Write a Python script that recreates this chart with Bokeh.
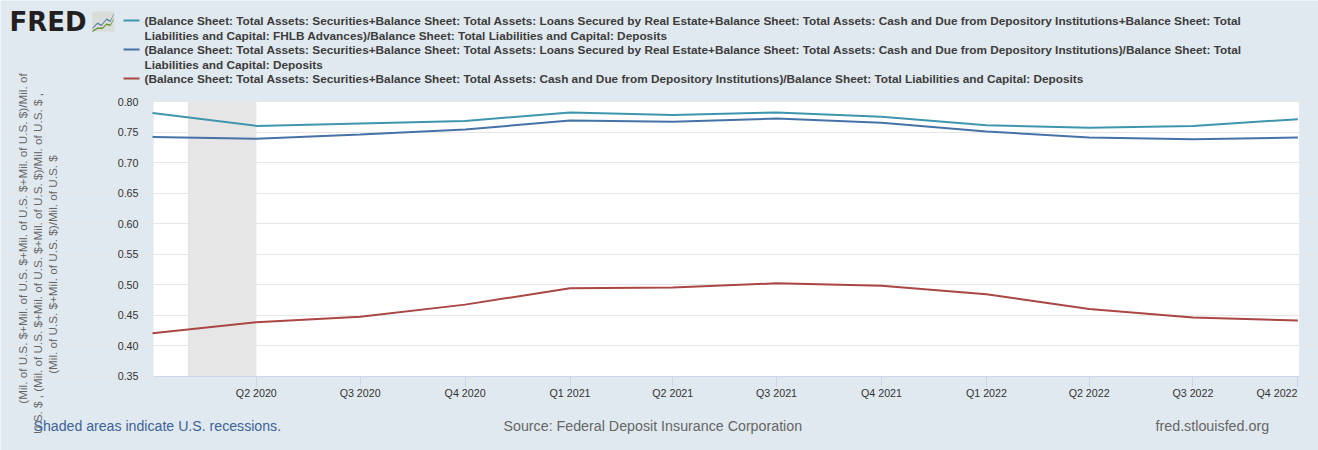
from datetime import datetime
from bokeh.embed import file_html
from bokeh.resources import INLINE
from bokeh.plotting import figure
from bokeh.models import Label, FixedTicker, PolyAnnotation, Range1d, PrintfTickFormatter

BG = "#e1e9f0"
FONT = "Liberation Sans"
WIDTH, HEIGHT = 1318, 450

quarters = ["Q1 2020", "Q2 2020", "Q3 2020", "Q4 2020", "Q1 2021", "Q2 2021",
            "Q3 2021", "Q4 2021", "Q1 2022", "Q2 2022", "Q3 2022", "Q4 2022"]
dates = [datetime(2020, 1, 1), datetime(2020, 4, 1), datetime(2020, 7, 1), datetime(2020, 10, 1),
         datetime(2021, 1, 1), datetime(2021, 4, 1), datetime(2021, 7, 1), datetime(2021, 10, 1),
         datetime(2022, 1, 1), datetime(2022, 4, 1), datetime(2022, 7, 1), datetime(2022, 10, 1)]
teal_values = [0.781, 0.760, 0.764, 0.768, 0.782, 0.778, 0.782, 0.775, 0.761, 0.757, 0.760, 0.771]
blue_values = [0.742, 0.739, 0.746, 0.754, 0.769, 0.767, 0.772, 0.765, 0.751, 0.741, 0.738, 0.741]
red_values = [0.420, 0.438, 0.447, 0.467, 0.494, 0.495, 0.502, 0.498, 0.484, 0.460, 0.446, 0.441]
y_ticks = [0.35, 0.40, 0.45, 0.50, 0.55, 0.60, 0.65, 0.70, 0.75, 0.80]
recession = (datetime(2020, 2, 1), datetime(2020, 4, 1))
plot_span = (datetime(2020, 1, 2), datetime(2022, 10, 2))

TEAL, BLUE, RED = "#3d96ae", "#4572a7", "#aa4643"
legend_lines = [
    (TEAL, 20, "(Balance Sheet: Total Assets: Securities+Balance Sheet: Total Assets: Loans Secured by Real Estate+Balance Sheet: Total Assets: Cash and Due from Depository Institutions+Balance Sheet: Total"),
    (None, 35, "Liabilities and Capital: FHLB Advances)/Balance Sheet: Total Liabilities and Capital: Deposits"),
    (BLUE, 49, "(Balance Sheet: Total Assets: Securities+Balance Sheet: Total Assets: Loans Secured by Real Estate+Balance Sheet: Total Assets: Cash and Due from Depository Institutions)/Balance Sheet: Total"),
    (None, 64, "Liabilities and Capital: Deposits"),
    (RED, 78, "(Balance Sheet: Total Assets: Securities+Balance Sheet: Total Assets: Cash and Due from Depository Institutions)/Balance Sheet: Total Liabilities and Capital: Deposits"),
]
y_title = [
    (22, 238, "(Mil. of U.S. $+Mil. of U.S. $+Mil. of U.S. $+Mil. of U.S. $)/Mil. of"),
    (37, 263, "U.S. $ , (Mil. of U.S. $+Mil. of U.S. $+Mil. of U.S. $)/Mil. of U.S. $ ,"),
    (52, 264, "(Mil. of U.S. $+Mil. of U.S. $)/Mil. of U.S. $"),
]

# The frame fills the whole canvas so that the page-level texts can be drawn in it;
# ranges are chosen so that the chart region falls where the reference has it.
T0, T1 = dates[0].timestamp() * 1000, dates[-1].timestamp() * 1000
PX0, PX1 = 152.0, 1297.4
ms_per_px = (T1 - T0) / (PX1 - PX0)
PY80, PY35 = 101.0, 375.5
val_per_px = (0.80 - 0.35) / (PY35 - PY80)

p = figure(width=WIDTH, height=HEIGHT, x_axis_type="datetime", output_backend="svg", toolbar_location=None,
           background_fill_color=BG, border_fill_color=BG, outline_line_color=None,
           min_border_left=0, min_border_right=0, min_border_top=0, min_border_bottom=0,
           x_range=Range1d(T0 - PX0 * ms_per_px, T0 + (WIDTH - PX0) * ms_per_px),
           y_range=Range1d(0.35 - (HEIGHT - PY35) * val_per_px, 0.80 + PY80 * val_per_px))

p.xgrid.visible = False
p.ygrid.grid_line_color = "#e6e6e6"
p.ygrid.ticker = FixedTicker(ticks=y_ticks)
p.ygrid.bounds = (plot_span[0].timestamp() * 1000, plot_span[1].timestamp() * 1000)

xa, ya = p.xaxis[0], p.yaxis[0]
xa.fixed_location = 0.35
xa.bounds = (plot_span[0].timestamp() * 1000, plot_span[1].timestamp() * 1000)
xa.ticker = FixedTicker(ticks=[d.timestamp() * 1000 for d in dates[1:]])
xa.major_label_overrides = {d.timestamp() * 1000: q for d, q in zip(dates[1:-1], quarters[1:-1])}
xa.major_label_overrides[T1] = " "
xa.axis_line_color = "#ccd6eb"
xa.major_tick_line_color = "#ccd6eb"
xa.major_tick_in = 0
xa.major_tick_out = 10
xa.minor_tick_line_color = None
xa.major_label_standoff = 1
xa.major_label_text_font = FONT
xa.major_label_text_font_size = "10.7px"
xa.major_label_text_color = "#333333"

ya.fixed_location = T0
ya.bounds = (0.35, 0.80)
ya.ticker = FixedTicker(ticks=y_ticks)
ya.formatter = PrintfTickFormatter(format="%.2f")
ya.axis_line_color = None
ya.major_tick_line_color = None
ya.minor_tick_line_color = None
ya.major_tick_in = 0
ya.major_tick_out = 0
ya.major_label_standoff = 14
ya.major_label_text_font = FONT
ya.major_label_text_font_size = "10.7px"
ya.major_label_text_color = "#333333"

p.quad(left=[plot_span[0]], right=[plot_span[1]], bottom=[0.35], top=[0.80],
       fill_color="white", line_color=None, level="image")
p.quad(left=[recession[0]], right=[recession[1]], bottom=[0.35], top=[0.80],
       fill_color="#e6e6e6", line_color=None, level="underlay")

p.line(dates, teal_values, line_color=TEAL, line_width=2)
p.line(dates, blue_values, line_color=BLUE, line_width=2)
p.line(dates, red_values, line_color=RED, line_width=2)


def txt(X, Y, s, size, color, align="left", base="middle", style="normal", angle=0, font=FONT):
    p.add_layout(Label(x=X, y=HEIGHT - Y, x_units="screen", y_units="screen", text=s,
                       text_font=font, text_font_size=size, text_color=color, text_align=align,
                       text_baseline=base, text_font_style=style, angle=angle))


def poly(xs, ys, color):
    p.add_layout(PolyAnnotation(xs=xs, ys=[HEIGHT - y for y in ys], xs_units="screen", ys_units="screen",
                                fill_color=color, fill_alpha=1, line_color=None))


for col, Y, s in legend_lines:
    txt(144, Y, s, "11.8px", "#3c3c3c", style="bold")
    if col:
        poly([123, 139, 139, 123], [Y - 1, Y - 1, Y + 1, Y + 1], col)

for X, Y, s in y_title:
    txt(X, Y, s, "11.7px", "#666666", align="center", angle=1.5707963)

txt(1297, 392, quarters[-1], "10.7px", "#333333", align="right")
txt(33, 425, "Shaded areas indicate U.S. recessions.", "14.15px", "#3c6399")
txt(503, 425, "Source: Federal Deposit Insurance Corporation", "14.25px", "#666666")
txt(1155, 425, "fred.stlouisfed.org", "14.3px", "#666666")

# FRED logo
txt(9, 21, "FRED", "26px", "#231f20", style="bold", font="DejaVu Sans")
poly([92, 114, 114, 92], [11, 11, 31, 31], "#d9dcd8")
blue_x, blue_y = [92, 97, 101, 106, 110, 113], [27, 22, 24, 18, 20, 13]
green_x, green_y = [92, 97, 102, 106, 110, 113], [30, 27, 27, 23, 24, 18]
poly(blue_x + blue_x[::-1], blue_y + [y + 1.5 for y in blue_y[::-1]], "#4f82a3")
poly(green_x + green_x[::-1], green_y + [y + 1.5 for y in green_y[::-1]], "#64912f")

open("out.html", "w").write(file_html(p, INLINE))
